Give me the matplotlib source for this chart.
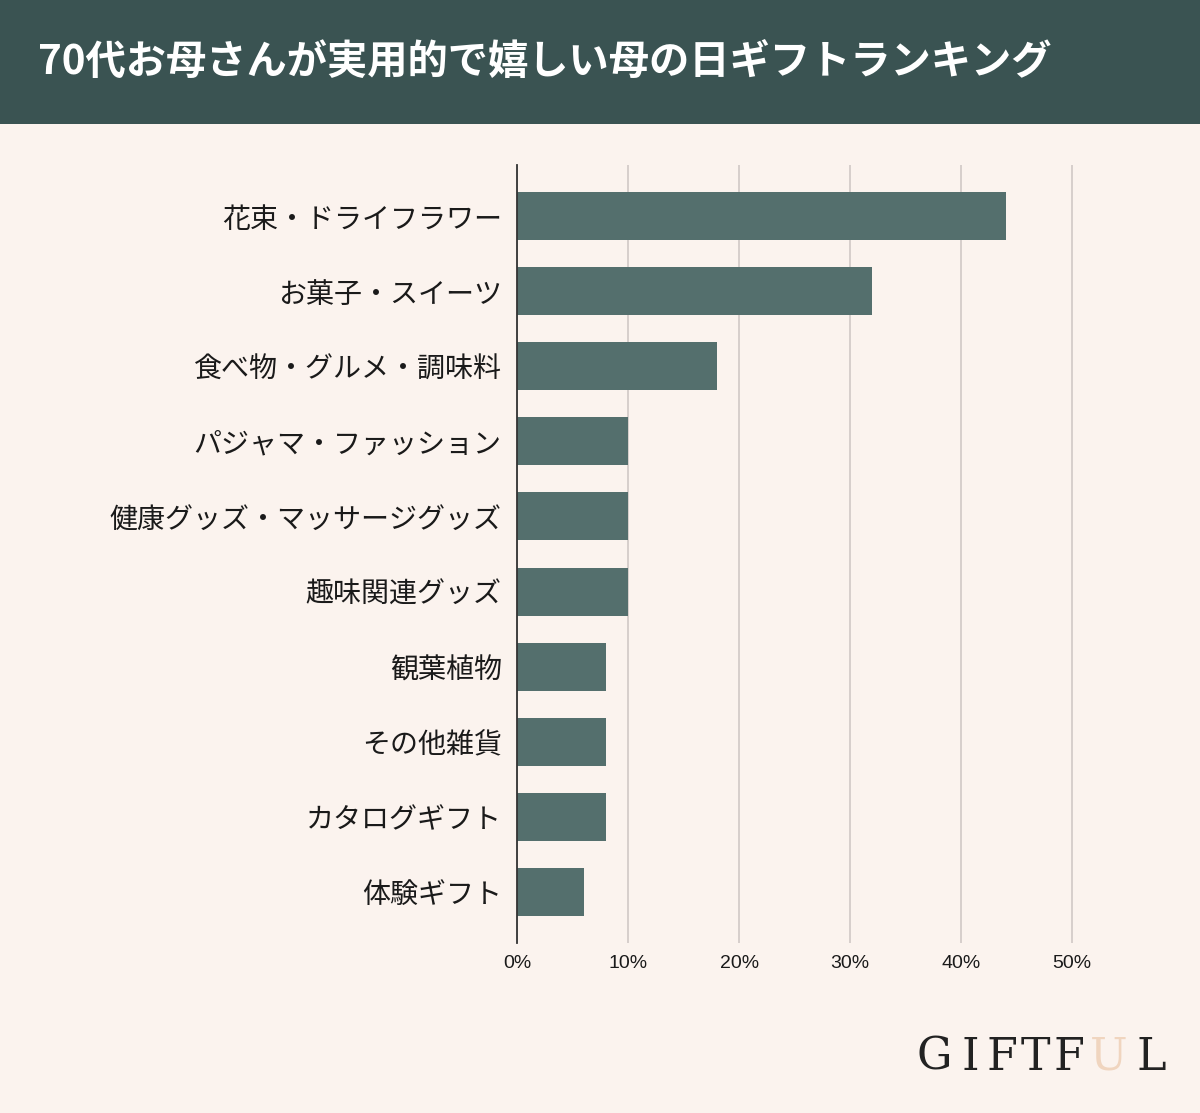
import matplotlib.pyplot as plt
from matplotlib.patches import Rectangle

plt.rcParams['font.family'] = ['Noto Sans CJK JP', 'DejaVu Sans']

categories = ['花束・ドライフラワー', 'お菓子・スイーツ', '食べ物・グルメ・調味料',
              'パジャマ・ファッション', '健康グッズ・マッサージグッズ', '趣味関連グッズ',
              '観葉植物', 'その他雑貨', 'カタログギフト', '体験ギフト']
shares = [44, 32, 18, 10, 10, 10, 8, 8, 8, 6]
xticks = [0, 10, 20, 30, 40, 50]
title = '70代お母さんが実用的で嬉しい母の日ギフトランキング'

bg = '#fbf3ee'
header = '#3a5352'
bar_color = '#546f6d'

W, H = 1200, 1113
fig = plt.figure(figsize=(W / 100, H / 100), dpi=100, facecolor=bg)

# header band
fig.patches.append(Rectangle((0, 1 - 124 / H), 1, 124 / H, transform=fig.transFigure,
                             facecolor=header, edgecolor='none', zorder=0))
fig.text(38 / W, 1 - 62 / H, title, color='white', fontsize=29, fontweight='bold',
         ha='left', va='center')

ax = fig.add_axes([517 / W, 1 - 943 / H, (1150 - 517) / W, (943 - 165) / H])
ax.set_facecolor(bg)
y = list(range(len(categories)))
ax.barh(y, shares, height=0.64, color=bar_color, zorder=3)
ax.set_ylim(len(categories) - 0.32, -0.68)
ax.set_xlim(0, 57)
ax.set_yticks(y)
ax.set_yticklabels(categories, fontsize=20.2, color='#1a1a1a')
ax.set_xticks(xticks)
ax.set_xticklabels([f'{t}%' for t in xticks], fontsize=14, color='#1a1a1a',
                   family=['Liberation Sans', 'DejaVu Sans'])
ax.tick_params(axis='both', length=0)
ax.tick_params(axis='y', pad=11)
ax.tick_params(axis='x', pad=9)
ax.grid(axis='x', color='#d0c8c6', linewidth=1.2, zorder=0)
for s in ['top', 'right', 'bottom']:
    ax.spines[s].set_visible(False)
ax.spines['left'].set_color('#333333')
ax.spines['left'].set_linewidth(1.3)
ax.spines['left'].set_zorder(4)

# logo
logo = [('G', 934), ('I', 970), ('F', 1002), ('T', 1035), ('F', 1069), ('U', 1109), ('L', 1151)]
for ch, px in logo:
    fig.text(px / W, 1 - 1057 / H, ch, fontsize=32, ha='center', va='center',
             color='#f0d5bf' if ch == 'U' else '#222222',
             family=['DejaVu Serif'], fontweight='light')

fig.savefig('out.png', dpi=100, facecolor=bg)
